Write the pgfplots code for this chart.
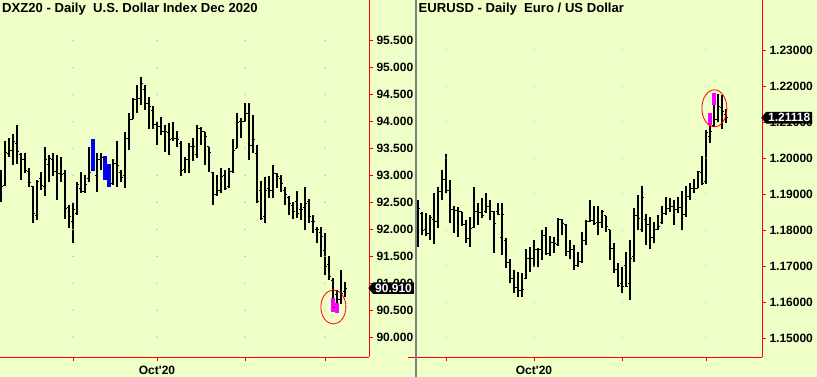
\documentclass[border=0pt]{standalone}
\usepackage{fontspec}
\setmainfont{Liberation Sans}
\usepackage{pgfplots}
\pgfplotsset{compat=1.18}
\usepackage{pgfplotstable}
\usetikzlibrary{shapes.symbols}
\definecolor{bgc}{RGB}{238,255,200}
\definecolor{hlblue}{RGB}{0,0,255}
\definecolor{hlpink}{RGB}{255,0,255}

\pgfdeclareplotmark{otick}{\pgfpathmoveto{\pgfqpoint{-1.9pt}{0pt}}\pgfpathlineto{\pgfqpoint{0pt}{0pt}}\pgfusepathqstroke}
\pgfdeclareplotmark{ctick}{\pgfpathmoveto{\pgfqpoint{0pt}{0pt}}\pgfpathlineto{\pgfqpoint{1.9pt}{0pt}}\pgfusepathqstroke}

% DXZ20 daily OHLC
\pgfplotstableread{
x O H L C
0 92.80 93.11 92.50 92.80
1 92.82 93.63 92.80 93.42
2 93.40 93.69 93.35 93.47
3 93.47 93.77 93.19 93.63
4 93.60 93.94 93.22 93.44
5 93.38 93.41 92.92 93.30
6 93.30 93.42 93.04 93.10
7 93.08 93.13 92.79 92.87
8 92.80 92.80 92.12 92.30
9 92.25 92.92 92.17 92.88
10 92.95 93.07 92.73 92.82
11 92.80 93.52 92.61 93.29
12 93.21 93.38 92.88 93.32
13 93.30 93.41 92.99 93.07
14 93.07 93.38 92.54 93.04
15 93.04 93.35 92.87 93.01
16 93.04 93.11 92.20 92.39
17 92.40 92.45 92.02 92.24
18 92.14 92.48 91.75 92.37
19 92.30 92.88 92.27 92.84
20 92.75 93.07 92.68 92.70
21 92.70 93.01 92.68 92.84
22 92.95 93.52 92.88 93.05
23 93.10 93.68 93.09 93.60
24 93.00 93.42 92.70 93.30
25 93.30 93.41 93.10 93.34
26 93.30 93.36 92.92 92.95
27 93.15 93.21 92.78 92.85
28 92.85 93.30 92.82 93.22
29 93.22 93.63 92.79 93.19
30 93.05 93.11 92.88 92.97
31 92.99 93.81 92.76 93.69
32 93.69 94.15 93.47 94.04
33 94.04 94.43 94.04 94.40
34 94.40 94.68 94.15 94.43
35 94.43 94.82 94.31 94.70
36 94.60 94.68 94.21 94.34
37 94.34 94.46 93.87 94.28
38 94.20 94.28 93.87 93.94
39 93.94 94.00 93.56 93.90
40 93.90 94.09 93.75 93.81
41 93.81 93.94 93.44 93.81
42 93.80 93.97 93.38 93.66
43 93.69 94.00 93.63 93.69
44 93.69 93.83 93.53 93.66
45 93.60 93.63 92.99 93.09
46 93.11 93.35 93.04 93.30
47 93.30 93.60 93.04 93.53
48 93.53 93.69 93.26 93.53
49 93.38 93.94 93.32 93.88
50 93.88 93.90 93.56 93.81
51 93.81 93.81 93.19 93.72
52 93.53 93.53 93.07 93.42
53 93.05 93.07 92.45 92.65
54 92.65 93.01 92.61 92.73
55 92.73 93.13 92.67 92.98
56 93.00 93.10 92.73 92.76
57 92.80 93.13 92.76 93.07
58 93.07 93.67 93.05 93.47
59 93.50 94.15 93.50 93.98
60 94.00 94.06 93.69 94.00
61 94.00 94.34 94.00 94.15
62 94.15 94.34 93.29 93.56
63 93.56 94.12 93.41 93.66
64 93.41 93.57 92.48 92.51
65 92.73 92.89 92.17 92.21
66 92.24 92.98 92.12 92.73
67 92.75 92.99 92.58 92.73
68 92.73 93.19 92.58 93.04
69 93.04 93.04 92.76 92.98
70 92.95 93.01 92.70 92.85
71 92.73 92.79 92.45 92.64
72 92.60 92.61 92.27 92.48
73 92.45 92.51 92.19 92.33
74 92.51 92.72 92.21 92.30
75 92.36 92.48 92.17 92.36
76 92.40 92.79 91.99 92.48
77 92.51 92.56 92.11 92.24
78 92.14 92.27 91.94 92.14
79 91.99 92.05 91.74 91.99
80 91.95 92.04 91.49 91.86
81 91.60 91.93 91.15 91.31
82 91.35 91.51 91.06 91.12
83 91.05 91.10 90.47 90.55
84 90.80 90.87 90.45 90.70
85 90.70 91.25 90.62 90.81
86 90.85 91.03 90.75 90.91
}\dxy

\pgfplotstableread{
x lo hi
23 93.09 93.68
26 92.92 93.36
27 92.78 93.21
}\dxyblue

\pgfplotstableread{
x lo hi
83 90.47 90.72
84 90.45 90.63
}\dxypink

% EURUSD daily OHLC
\pgfplotstableread{
x O H L C
0 1.1800 1.1883 1.1754 1.1860
1 1.1845 1.1851 1.1786 1.1798
2 1.1800 1.1846 1.1783 1.1789
3 1.1790 1.1842 1.1772 1.1835
4 1.1828 1.1902 1.1761 1.1823
5 1.1823 1.1920 1.1805 1.1906
6 1.1906 1.1967 1.1883 1.1939
7 1.1939 1.2011 1.1902 1.1911
8 1.1911 1.1939 1.1819 1.1856
9 1.1856 1.1867 1.1791 1.1854
10 1.1854 1.1865 1.1781 1.1851
11 1.1851 1.1851 1.1811 1.1814
12 1.1814 1.1828 1.1765 1.1776
13 1.1776 1.1835 1.1754 1.1804
14 1.1807 1.1919 1.1805 1.1850
15 1.1850 1.1876 1.1814 1.1848
16 1.1848 1.1888 1.1832 1.1839
17 1.1850 1.1902 1.1848 1.1865
18 1.1865 1.1883 1.1828 1.1851
19 1.1851 1.1854 1.1737 1.1817
20 1.1850 1.1874 1.1842 1.1844
21 1.1780 1.1874 1.1731 1.1844
22 1.1772 1.1777 1.1694 1.1710
23 1.1709 1.1719 1.1652 1.1665
24 1.1666 1.1689 1.1626 1.1640
25 1.1640 1.1684 1.1613 1.1632
26 1.1632 1.1680 1.1615 1.1635
27 1.1666 1.1746 1.1663 1.1720
28 1.1720 1.1754 1.1684 1.1721
29 1.1721 1.1772 1.1698 1.1745
30 1.1745 1.1749 1.1696 1.1745
31 1.1745 1.1800 1.1717 1.1786
32 1.1786 1.1807 1.1731 1.1735
33 1.1735 1.1783 1.1728 1.1765
34 1.1765 1.1781 1.1737 1.1763
35 1.1761 1.1832 1.1756 1.1830
36 1.1830 1.1830 1.1786 1.1817
37 1.1814 1.1817 1.1728 1.1740
38 1.1740 1.1772 1.1719 1.1746
39 1.1746 1.1758 1.1689 1.1700
40 1.1700 1.1740 1.1698 1.1712
41 1.1712 1.1795 1.1709 1.1772
42 1.1772 1.1828 1.1758 1.1823
43 1.1823 1.1883 1.1823 1.1826
44 1.1826 1.1867 1.1815 1.1819
45 1.1820 1.1867 1.1786 1.1820
46 1.1820 1.1856 1.1805 1.1851
47 1.1839 1.1839 1.1795 1.1809
48 1.1800 1.1800 1.1717 1.1749
49 1.1749 1.1763 1.1680 1.1690
50 1.1690 1.1708 1.1643 1.1647
51 1.1650 1.1698 1.1624 1.1643
52 1.1700 1.1740 1.1643 1.1643
53 1.1650 1.1772 1.1606 1.1721
54 1.1726 1.1860 1.1712 1.1840
55 1.1840 1.1897 1.1800 1.1833
56 1.1800 1.1922 1.1795 1.1890
57 1.1830 1.1844 1.1758 1.1814
58 1.1814 1.1835 1.1746 1.1780
59 1.1780 1.1823 1.1763 1.1800
60 1.1800 1.1842 1.1800 1.1809
61 1.1820 1.1867 1.1817 1.1846
62 1.1846 1.1893 1.1842 1.1860
63 1.1860 1.1888 1.1851 1.1865
64 1.1865 1.1883 1.1814 1.1856
65 1.1856 1.1893 1.1846 1.1863
66 1.1863 1.1907 1.1800 1.1842
67 1.1842 1.1922 1.1837 1.1893
68 1.1893 1.1930 1.1883 1.1916
69 1.1916 1.1941 1.1902 1.1916
70 1.1916 1.1965 1.1916 1.1962
71 1.1960 1.2006 1.1925 1.1930
72 1.1935 1.2078 1.1928 1.2070
73 1.2060 1.2124 1.2041 1.2073
74 1.2090 1.2180 1.2087 1.2107
75 1.2107 1.2178 1.2101 1.2144
76 1.2140 1.2175 1.2080 1.2129
77 1.2120 1.2135 1.2096 1.2112
}\eur

\pgfplotstableread{
x lo hi
73 1.2092 1.2124
74 1.2147 1.2180
}\eurpink

\pgfplotsset{
  chartbase/.style={
    scale only axis, anchor=south west, height=357pt,
    axis x line*=bottom, axis y line*=right,
    axis line style={red, line width=0.9pt, -},
    tick style={red, line width=0.9pt},
    tick align=outside, major tick length=4pt,
    clip=true,
    font=\fontsize{12}{14}\selectfont\bfseries,
    yticklabel style={anchor=west, xshift=0pt},
    xticklabel style={yshift=-2pt},
  },
  hl/.style={draw=none, mark=none, forget plot,
    error bars/.cd, y dir=plus, y explicit, error mark=none,
    error bar style={draw=#1, line width=3.2pt}},
  ohlcbars/.style={draw=none, mark=none, forget plot,
    error bars/.cd, y dir=plus, y explicit, error mark=none,
    error bar style={draw=black, line width=1.05pt}},
  gdot/.style={only marks, mark=*, mark size=0.45pt, color=black!28, forget plot},
}

\begin{document}
\begin{tikzpicture}
\fill[bgc] (0,0) rectangle (817pt,377pt);

% ---------- Left panel: DXZ20 ----------
\begin{axis}[chartbase,
  at={(0pt,20pt)}, width=369pt,
  xmin=-0.25, xmax=92, ymin=89.632, ymax=96.255,
  xtick={18,39,61,81}, xticklabels={,Oct\textquotesingle20,,},
  ytick={90,90.5,91,91.5,92,92.5,93,93.5,94,94.5,95,95.5},
  yticklabel={\pgfmathprintnumber[fixed,fixed zerofill,precision=3,assume math mode=true]{\tick}},
]
\pgfplotsinvokeforeach{18,39,61,81}{
  \addplot[gdot] coordinates {(#1,90)(#1,90.5)(#1,91)(#1,91.5)(#1,92)(#1,92.5)(#1,93)(#1,93.5)(#1,94)(#1,94.5)(#1,95)(#1,95.5)};
}
\addplot[ohlcbars] table[x=x, y=L, y error expr=\thisrow{H}-\thisrow{L}] {\dxy};
\addplot[only marks, mark=otick, mark options={line width=1pt, black}, forget plot] table[x=x, y=O] {\dxy};
\addplot[only marks, mark=ctick, mark options={line width=1pt, black}, forget plot] table[x=x, y=C] {\dxy};
\addplot[hl=hlblue] table[x=x, y=lo, y error expr=\thisrow{hi}-\thisrow{lo}] {\dxyblue};
\addplot[hl=hlpink] table[x=x, y=lo, y error expr=\thisrow{hi}-\thisrow{lo}] {\dxypink};
\draw[red, line width=0.8pt] (axis cs:83.1,90.56) ellipse [x radius=12.5pt, y radius=17pt];
\coordinate (pL) at (axis cs:92,90.91);
\end{axis}

% ---------- Right panel: EURUSD ----------
\begin{axis}[chartbase,
  at={(416pt,20pt)}, width=346pt,
  xmin=-0.5, xmax=86, ymin=1.14472, ymax=1.24389,
  xtick={7,29,51,72}, xticklabels={,Oct\textquotesingle20,,},
  ytick={1.15,1.16,1.17,1.18,1.19,1.20,1.21,1.22,1.23},
  yticklabel={\pgfmathprintnumber[fixed,fixed zerofill,precision=5,assume math mode=true]{\tick}},
]
\pgfplotsinvokeforeach{7,29,51,72}{
  \addplot[gdot] coordinates {(#1,1.15)(#1,1.16)(#1,1.17)(#1,1.18)(#1,1.19)(#1,1.20)(#1,1.21)(#1,1.22)(#1,1.23)};
}
\addplot[ohlcbars] table[x=x, y=L, y error expr=\thisrow{H}-\thisrow{L}] {\eur};
\addplot[only marks, mark=otick, mark options={line width=1pt, black}, forget plot] table[x=x, y=O] {\eur};
\addplot[only marks, mark=ctick, mark options={line width=1pt, black}, forget plot] table[x=x, y=C] {\eur};
\addplot[hl=hlpink] table[x=x, y=lo, y error expr=\thisrow{hi}-\thisrow{lo}] {\eurpink};
\draw[red, line width=0.8pt] (axis cs:74.1,1.2138) ellipse [x radius=12.5pt, y radius=18.5pt];
\coordinate (pR) at (axis cs:86,1.21118);
\end{axis}

% bottom line continues under the separator
\draw[red, line width=0.9pt] (408pt,20pt) -- (417pt,20pt);
% separator
\draw[black!50, line width=2pt] (416pt,0) -- (416pt,377pt);

% last-price boxes
\node[signal, signal to=west, signal pointer angle=100, fill=black, text=white,
      inner xsep=2pt, inner ysep=1.6pt, anchor=west, font=\fontsize{12}{14}\selectfont\bfseries]
      at ([xshift=-1pt]pL) {90.910};
\node[signal, signal to=west, signal pointer angle=100, fill=black, text=white,
      inner xsep=2pt, inner ysep=1.6pt, anchor=west, font=\fontsize{12}{14}\selectfont\bfseries]
      at ([xshift=-1pt]pR) {1.21118};

% titles
\node[anchor=west, inner sep=0pt, font=\fontsize{13.1}{15}\selectfont\bfseries] at (2pt,367.5pt) {DXZ20 - Daily\ \ U.S. Dollar Index Dec 2020};
\node[anchor=west, inner sep=0pt, font=\fontsize{13.1}{15}\selectfont\bfseries] at (418.5pt,367.5pt) {EURUSD - Daily\ \ Euro / US Dollar};

\pgfresetboundingbox
\useasboundingbox (0,0) rectangle (817pt,377pt);
\end{tikzpicture}
\end{document}
